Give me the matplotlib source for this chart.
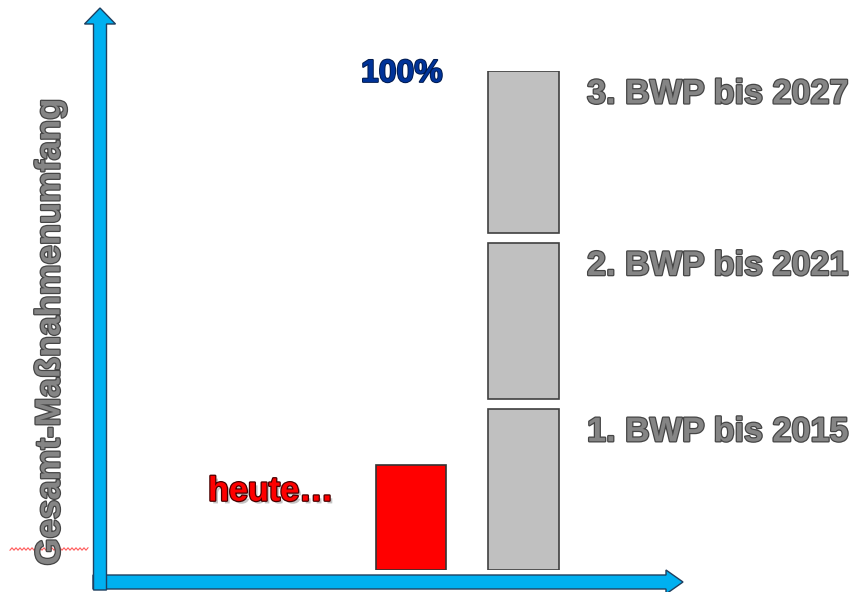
import numpy as np
import matplotlib
matplotlib.use("Agg")
import matplotlib.pyplot as plt
import matplotlib.patches as mpatches
import matplotlib.patheffects as pe

# Data (percent of the total programme of measures)
stages = ["1. BWP bis 2015", "2. BWP bis 2021", "3. BWP bis 2027"]
stage_share = [33.3, 33.3, 33.4]
today_label = "heute…"
today_value = 21
total_label = "100%"
y_label = "Gesamt-Maßnahmenumfang"

plt.rcParams['font.family'] = ['Liberation Sans', 'DejaVu Sans']
plt.rcParams['font.weight'] = 'bold'

fig = plt.figure(figsize=(8.54, 5.92), dpi=100)
ax = fig.add_axes([0, 0.0372, 1, 0.843])
ax.set_xlim(-3.653, 3.938)
ax.set_ylim(0, 100)
ax.axis('off')

bar_w = 0.63
gap = 2.0

# today's bar
ax.bar(0, today_value, width=bar_w, color='#FF0000', edgecolor='#333333', linewidth=1.2, zorder=3)

# stacked plan periods, with small gaps between them
starts = np.concatenate([[0], np.cumsum(stage_share)[:-1]])
ends = np.cumsum(stage_share)
n = len(stages)
outline = [pe.Stroke(linewidth=1.8, foreground='#454545'), pe.Normal()]
for i, (s, e, lab) in enumerate(zip(starts, ends, stages)):
    lo = s + (gap / 2 if i > 0 else 0)
    hi = e - (gap / 2 if i < n - 1 else 0)
    ax.bar(1, hi - lo, bottom=lo, width=bar_w, color='#C0C0C0',
           edgecolor='#404040', linewidth=1.2, zorder=3)
    ax.text(1.565, hi - 4.8, lab, fontsize=24.6, color='#858585', ha='left', va='center',
            path_effects=outline)

ax.text(-0.08, ends[-1] - 0.6, total_label, fontsize=23, color='#003399', ha='center', va='center',
        path_effects=[pe.Stroke(linewidth=1.4, foreground='#001a4d'), pe.Normal()])

ax.text(-0.69, 15.6, today_label, fontsize=24.6, color='#FF0000', ha='right', va='center',
        path_effects=[pe.SimplePatchShadow(offset=(2, -2), shadow_rgbFace='#888888', alpha=0.5),
                      pe.Stroke(linewidth=1.8, foreground='#4a0000'), pe.Normal()])

# axis arrows (drawn in inches, 100 px per inch)
tr = fig.dpi_scale_trans
h_arrow = mpatches.FancyArrow(0.93, 0.10, 5.90, 0, width=0.14, head_width=0.24, head_length=0.17,
                              length_includes_head=True, transform=tr,
                              facecolor='#00B0F0', edgecolor='#1f3f5f', linewidth=1.0)
v_arrow = mpatches.FancyArrow(1.00, 0.02, 0, 5.82, width=0.13, head_width=0.31, head_length=0.16,
                              length_includes_head=True, transform=tr,
                              facecolor='#00B0F0', edgecolor='#1f3f5f', linewidth=1.0)
fig.patches.extend([h_arrow, v_arrow])

fig.text(50 / 854, (592 - 332) / 592, y_label, rotation=90, fontsize=25, color='#858585',
         ha='center', va='center', path_effects=outline)

# spell-check squiggle under the label
sx = np.arange(0.10, 0.885, 0.02)
sy = 0.43 + np.where(np.arange(len(sx)) % 2 == 0, -0.012, 0.012)
fig.add_artist(plt.Line2D(sx, sy, transform=tr, color='#ff5a5a', linewidth=0.8))

fig.savefig("out.png", dpi=100)
